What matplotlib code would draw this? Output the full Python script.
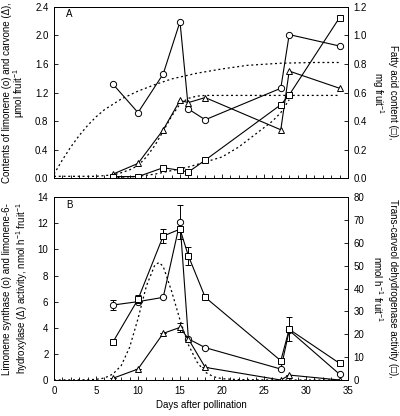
import numpy as np
import matplotlib
matplotlib.use('Agg')
import matplotlib.pyplot as plt
from matplotlib.ticker import MultipleLocator

plt.rcParams['font.family'] = ['Liberation Sans', 'DejaVu Sans']
plt.rcParams['font.size'] = 7
plt.rcParams['mathtext.fontset'] = 'custom'
plt.rcParams['mathtext.rm'] = 'Liberation Sans'
plt.rcParams['mathtext.it'] = 'Liberation Sans:italic'

# panel A: contents
days_a = [7, 10, 13, 15, 16, 18, 27, 28, 34]
limonene_a = [1.32, 0.92, 1.46, 2.19, 0.97, 0.82, 1.26, 2.01, 1.85]
carvone_a = [0.06, 0.21, 0.68, 1.09, 1.06, 1.13, 0.68, 1.50, 1.26]
fatty_a = [0.013, 0.013, 0.075, 0.057, 0.045, 0.128, 0.515, 0.583, 1.124]

lim_fit_days = [0, 1, 2, 3, 4, 5, 6, 8, 10, 12, 14, 17, 20, 23, 27, 31, 34]
lim_fit = [0.06, 0.26, 0.44, 0.60, 0.74, 0.86, 0.96, 1.11, 1.22, 1.31, 1.39, 1.47, 1.53, 1.58, 1.61, 1.62, 1.62]
carv_fit_days = [0, 5, 7, 8, 9, 10, 11, 12, 13, 14, 15, 16, 17, 18, 34]
carv_fit = [0.03, 0.03, 0.05, 0.08, 0.12, 0.18, 0.30, 0.46, 0.66, 0.87, 1.04, 1.12, 1.15, 1.16, 1.16]
fat_fit_days = [7, 10, 12, 14, 16, 18, 20, 22, 24, 26, 27, 28]
fat_fit = [0.005, 0.015, 0.03, 0.055, 0.08, 0.115, 0.15, 0.22, 0.31, 0.40, 0.46, 0.55]

# panel B: enzyme activities
days_b = [7, 10, 13, 15, 16, 18, 27, 28, 34]
ls_b = [5.74, 6.0, 6.33, 12.1, 3.15, 2.48, 0.84, 3.8, 0.44]
ls_err = [0.35, 0, 0, 1.3, 0, 0, 0, 0, 0]
lh_b = [0.13, 0.84, 3.57, 4.03, 3.14, 0.97, 0.0, 0.38, 0.0]
lh_err = [0, 0, 0, 0.35, 0, 0, 0, 0, 0]
tcd_b = [16.5, 35.3, 63.0, 66.0, 54.3, 36.2, 8.45, 22.2, 7.3]
tcd_err = [0, 1.7, 3.2, 0, 4.0, 0, 1.0, 5.3, 0.8]

enz_fit_days = [0, 4, 5, 6, 7, 8, 9, 10, 11, 12, 12.5, 13, 14, 15, 16, 17, 18, 19, 20, 22, 26, 34]
enz_fit = [0.0, 0.02, 0.05, 0.15, 0.45, 1.1, 2.5, 4.7, 7.2, 8.8, 9.0, 8.7, 6.8, 4.6, 2.7, 1.4, 0.6, 0.25, 0.1, 0.03, 0.0, 0.0]

fig = plt.figure(figsize=(4, 4.16), dpi=100)
axA = fig.add_axes([0.135, 0.571, 0.735, 0.413])
axB = fig.add_axes([0.135, 0.0865, 0.735, 0.4395])
axA2 = axA.twinx()
axB2 = axB.twinx()

mk = dict(color='k', lw=0.8, mfc='white', mec='k', mew=0.7, ms=4.5)
dot = dict(color='k', lw=0.9, ls=(0, (1.6, 2.2)))

# A
axA.plot(lim_fit_days, lim_fit, **dot)
axA.plot(carv_fit_days, carv_fit, **dot)
axA2.plot(fat_fit_days, fat_fit, **dot)
axA.plot(days_a, limonene_a, marker='o', **mk)
axA.plot(days_a, carvone_a, marker='^', **mk)
axA2.plot(days_a, fatty_a, marker='s', **mk)

# B
axB.plot(enz_fit_days, enz_fit, **dot)
axB.errorbar(days_b, ls_b, yerr=ls_err, marker='o', capsize=2, elinewidth=0.7, capthick=0.7, **mk)
axB.errorbar(days_b, lh_b, yerr=lh_err, marker='^', capsize=2, elinewidth=0.7, capthick=0.7, **mk)
axB2.errorbar(days_b, tcd_b, yerr=tcd_err, marker='s', capsize=2, elinewidth=0.7, capthick=0.7, **mk)

axA.set_ylim(0, 2.4)
axA2.set_ylim(0, 1.2)
axA.set_yticks(np.arange(0, 2.41, 0.4))
axA.set_yticklabels(['%.1f' % v for v in np.arange(0, 2.41, 0.4)])
axA2.set_yticks(np.arange(0, 1.21, 0.2))
axA2.set_yticklabels(['%.1f' % v for v in np.arange(0, 1.21, 0.2)])
axB.set_ylim(0, 14)
axB2.set_ylim(0, 80)
axB.set_yticks(range(0, 15, 2))
axB2.set_yticks(range(0, 81, 10))

for ax in (axA, axB):
    ax.set_xlim(0, 35)
    ax.xaxis.set_major_locator(MultipleLocator(5))
    ax.xaxis.set_minor_locator(MultipleLocator(1))
axA.set_xticklabels([])

for ax in (axA, axA2, axB, axB2):
    ax.tick_params(which='major', direction='in', length=3, width=0.6, pad=4, labelsize=7)
    ax.tick_params(which='minor', direction='in', length=2, width=0.6)
    for s in ax.spines.values():
        s.set_linewidth(0.7)

axB.set_xlabel('Days after pollination', fontsize=7, labelpad=3)

axA.text(0.04, 0.955, 'A', transform=axA.transAxes, fontsize=7, va='center')
axB.text(0.04, 0.955, 'B', transform=axB.transAxes, fontsize=7, va='center')

# axis labels
fig.text(7 / 400, 1 - 92.6 / 416, 'Contents of limonene (o) and carvone (\u0394),', rotation=90, ha='center', va='center')
fig.text(19 / 400, 1 - 92.6 / 416, '\u03bcmol fruit$^{-1}$', rotation=90, ha='center', va='center')
fig.text(393 / 400, 1 - 92.6 / 416, 'Fatty acid content (\u25a1),', rotation=270, ha='center', va='center')
fig.text(378 / 400, 1 - 92.6 / 416, 'mg fruit$^{-1}$', rotation=270, ha='center', va='center')

fig.text(7 / 400, 1 - 288.6 / 416, 'Limonene synthase (o) and limonene-6-', rotation=90, ha='center', va='center')
fig.text(22 / 400, 1 - 288.6 / 416, 'hydroxylase (\u0394) activity, nmol h$^{-1}$ fruit$^{-1}$', rotation=90, ha='center', va='center')
fig.text(393 / 400, 1 - 288.6 / 416, 'Trans-carveol dehydrogenase activity (\u25a1),', rotation=270, ha='center', va='center')
fig.text(378 / 400, 1 - 288.6 / 416, 'nmol h$^{-1}$ fruit$^{-1}$', rotation=270, ha='center', va='center')

plt.savefig('out.png', dpi=100)
